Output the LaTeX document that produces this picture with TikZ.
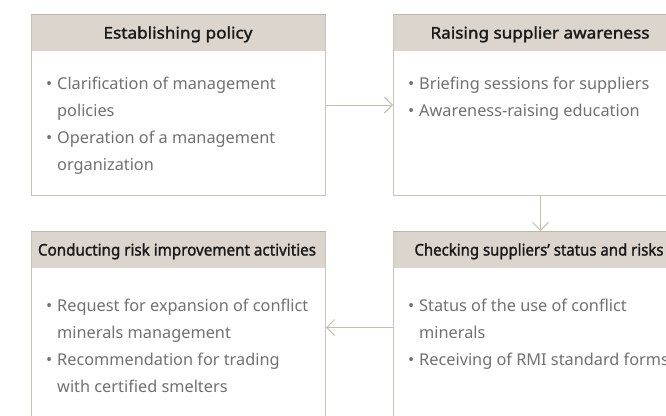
\documentclass[tikz,border=0pt]{standalone}
\usepackage{fontspec}
\setmainfont{Noto Sans}
\newfontfamily\hfont{Noto Sans}[FakeBold=1.6]
\usepackage{graphicx}
\usetikzlibrary{arrows.meta}
\definecolor{bord}{HTML}{CBC3BA}
\definecolor{hfill}{HTML}{DCD5CD}
\definecolor{htop}{HTML}{BDB4AA}
\definecolor{btext}{HTML}{707070}
\definecolor{harrow}{HTML}{C5BCB2}
\newcommand{\hd}[2]{\resizebox{#1pt}{\height}{#2}}
\begin{document}
\begin{tikzpicture}[x=1pt,y=-1pt,
  box/.style={draw=bord, line width=1pt, minimum width=294pt, inner sep=0pt, anchor=north west},
  hdr/.style={fill=hfill, minimum width=294pt, minimum height=37pt, inner sep=0pt, anchor=north west},
  htext/.style={anchor=base, inner sep=0pt, text=black!90, font=\fontsize{16}{18}\selectfont\hfont},
  line/.style={anchor=base west, inner sep=0pt, text=btext, font=\fontsize{16.3}{18}\selectfont},
  conn/.style={draw=harrow, line width=1pt, -{Straight Barb[length=8pt,width=16pt,line width=1pt]}}]
\useasboundingbox (0,0) rectangle (666,415);
\clip (0,0) rectangle (666,415);
% header fills
\node[hdr] (f1) at (31,14) {};
\node[hdr] (f2) at (393,14) {};
\node[hdr] (f3) at (31,231) {};
\node[hdr] (f4) at (393,231) {};
% boxes
\node[box, minimum height=181pt] (b1) at (31,14) {};
\node[box, minimum height=181pt] (b2) at (393,14) {};
\node[box, minimum height=192pt] (b3) at (31,231) {};
\node[box, minimum height=192pt] (b4) at (393,231) {};
\draw[htop, line width=1pt] (b1.north west) -- (b1.north east);
\draw[htop, line width=1pt] (b2.north west) -- (b2.north east);
\draw[htop, line width=1pt] (b3.north west) -- (b3.north east);
\draw[htop, line width=1pt] (b4.north west) -- (b4.north east);
% header texts
\node[htext] (t1) at (178,38.5) {\hd{149}{Establishing policy}};
\node[htext] (t2) at (540,38.5) {\hd{219}{Raising supplier awareness}};
\node[htext] (t3) at (177,255.5) {\hd{278}{Conducting risk improvement activities}};
\node[htext] (t4) at (539,255.5) {\hd{249}{Checking suppliers’ status and risks}};
% body texts
\node[line] (a1) at (46,89) {•};
\node[line] (a2) at (57,89) {Clarification of management};
\node[line] (a3) at (57,116) {policies};
\node[line] (a4) at (46,143) {•};
\node[line] (a5) at (57,143) {Operation of a management};
\node[line] (a6) at (57,170) {organization};
\node[line] (c1) at (408,89) {•};
\node[line] (c2) at (419,89) {Briefing sessions for suppliers};
\node[line] (c3) at (408,116) {•};
\node[line] (c4) at (419,116) {Awareness-raising education};
\node[line] (d1) at (46,311) {•};
\node[line] (d2) at (57,311) {Request for expansion of conflict};
\node[line] (d3) at (57,338) {minerals management};
\node[line] (d4) at (46,365) {•};
\node[line] (d5) at (57,365) {Recommendation for trading};
\node[line] (d6) at (57,392) {with certified smelters};
\node[line] (e1) at (408,311) {•};
\node[line] (e2) at (419,311) {Status of the use of conflict};
\node[line] (e3) at (419,338) {minerals};
\node[line] (e4) at (408,365) {•};
\node[line] (e5) at (419,365) {Receiving of RMI standard forms};
% connectors
\draw[conn] (b1.east) -- (b2.west);
\draw[conn] (b2.south) -- (b4.north);
\draw[conn] (b4.west) -- (b3.east);
\end{tikzpicture}
\end{document}
